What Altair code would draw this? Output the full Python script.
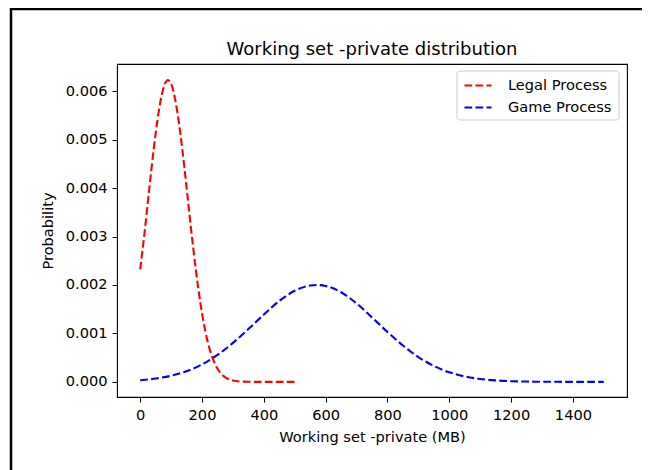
import altair as alt
import pandas as pd

legal_x = [0, 15, 30, 45, 60, 75, 90, 105, 120, 135, 150, 165, 180, 195, 210,
           225, 240, 255, 270, 285, 300, 325, 350, 400, 450, 500]
legal_y = [0.00232, 0.00313, 0.00402, 0.00487, 0.00558, 0.00606, 0.00623, 0.00606,
           0.00558, 0.00487, 0.00402, 0.00313, 0.00232, 0.00162, 0.00107, 0.00067,
           0.000400, 0.000224, 0.000119, 0.0000600, 0.0000286, 0.0000074, 0.0000015,
           0.0, 0.0, 0.0]

game_x = [0, 50, 100, 150, 200, 250, 300, 350, 400, 450, 500, 550, 570, 600, 650,
          700, 750, 800, 850, 900, 950, 1000, 1050, 1100, 1150, 1200, 1250, 1300,
          1350, 1400, 1450, 1500]
game_y = [0.0000345, 0.0000681, 0.000126, 0.000220, 0.000361, 0.000556, 0.000804,
          0.00109, 0.00139, 0.00167, 0.00188, 0.00199, 0.00200, 0.00198, 0.00185,
          0.00162, 0.00133, 0.00103, 0.000751, 0.000513, 0.000329, 0.000198,
          0.000112, 0.0000597, 0.0000298, 0.0000140, 0.0000061, 0.0000025,
          0.0000010, 0.0000003, 0.0000001, 0.0]

series_names = ["Legal Process", "Game Process"]
series_colors = ["red", "blue"]
x_ticks = [0, 200, 400, 600, 800, 1000, 1200, 1400]
y_ticks = [0.0, 0.001, 0.002, 0.003, 0.004, 0.005, 0.006]

df = pd.concat([
    pd.DataFrame({"x": legal_x, "y": legal_y, "series": series_names[0], "order": range(len(legal_x))}),
    pd.DataFrame({"x": game_x, "y": game_y, "series": series_names[1], "order": range(len(game_x))}),
])

FONT = "DejaVu Sans"
DASH = [7.7, 3.3]
FS = 14.6

one = pd.DataFrame({"a": [0]})

# legend box (drawn under the legend entries)
legend_box = alt.Chart(one).mark_rect(
    fill="white", stroke="#cccccc", strokeWidth=1, cornerRadius=3
).encode(x=alt.value(340), x2=alt.value(502), y=alt.value(7), y2=alt.value(56))

lines = alt.Chart(df).mark_line(
    strokeWidth=2.1, strokeDash=DASH, interpolate="monotone", clip=True
).encode(
    x=alt.X("x:Q",
            scale=alt.Scale(domain=[-75, 1575], nice=False, zero=False),
            axis=alt.Axis(values=x_ticks, format="d", title="Working set -private (MB)",
                          grid=False, domain=False, tickSize=5, tickColor="black",
                          labelPadding=5, titlePadding=7.5, labelFontSize=FS,
                          titleFontSize=FS, titleFontWeight="normal",
                          labelColor="black", titleColor="black",
                          labelFont=FONT, titleFont=FONT, labelFlush=False)),
    y=alt.Y("y:Q",
            scale=alt.Scale(domain=[-0.0003125, 0.0065625], nice=False, zero=False),
            axis=alt.Axis(values=y_ticks, format=".3f", title="Probability",
                          grid=False, domain=False, tickSize=5, tickColor="black",
                          labelPadding=5, titlePadding=10, labelFontSize=FS,
                          titleFontSize=FS, titleFontWeight="normal",
                          labelColor="black", titleColor="black",
                          labelFont=FONT, titleFont=FONT, labelFlush=False)),
    color=alt.Color("series:N",
                    scale=alt.Scale(domain=series_names, range=series_colors),
                    legend=alt.Legend(
                        title=None, orient="none", legendX=346, legendY=6.5,
                        symbolType="stroke", symbolSize=729, symbolStrokeWidth=2.1,
                        symbolDash=DASH, labelFontSize=FS, labelFont=FONT,
                        labelColor="black", labelOffset=15, rowPadding=-5,
                        padding=0)),
    order="order:Q",
    detail="series:N",
)

top_border = alt.Chart(one).mark_rule(color="black", strokeWidth=2.5).encode(
    x=alt.value(-106), x2=alt.value(540), y=alt.value(-55))
left_border = alt.Chart(one).mark_rule(color="black", strokeWidth=2.5).encode(
    x=alt.value(-106), y=alt.value(-56), y2=alt.value(410))

chart = alt.layer(lines, legend_box, top_border, left_border).properties(
    width=510, height=333,
    background="white",
    title=alt.TitleParams("Working set -private distribution", fontSize=18,
                          font=FONT, fontWeight="normal", color="black",
                          anchor="middle", frame="group", offset=6, dy=58),
    autosize=alt.AutoSizeParams(type="none"),
    padding={"left": 109, "top": 56, "right": 15, "bottom": 73},
).configure_view(stroke="black", strokeWidth=1.1)

chart.save("out.html", embed_options={"renderer": "svg", "actions": False})
